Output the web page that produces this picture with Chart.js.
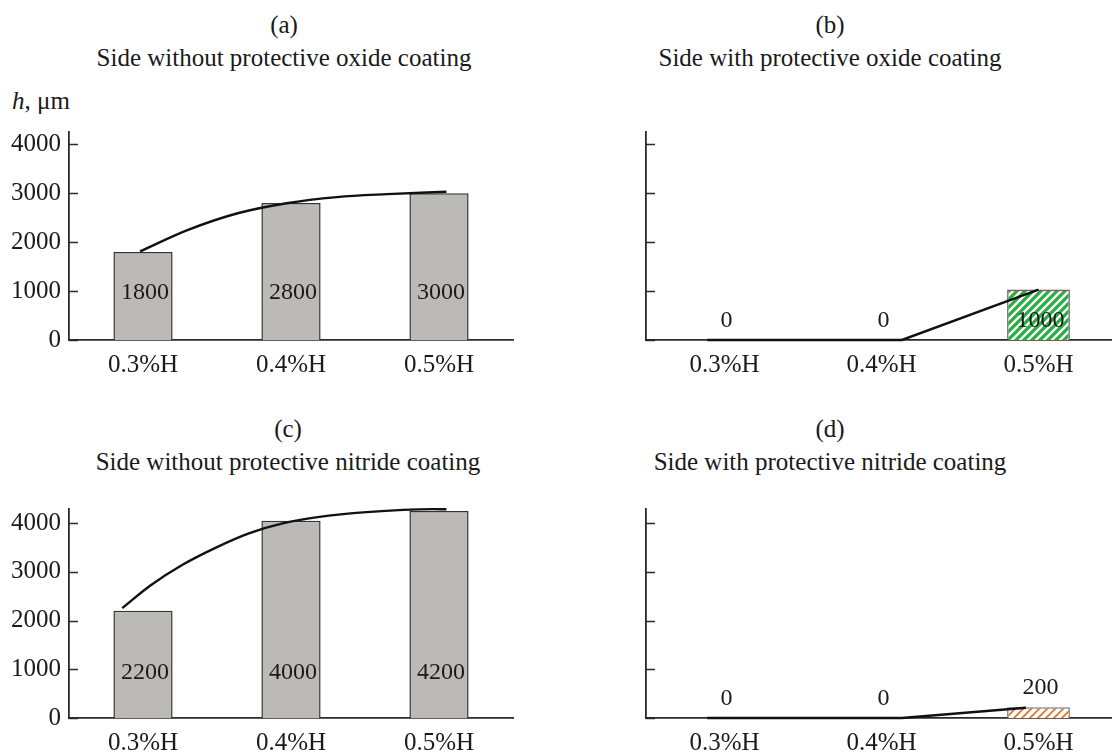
<!DOCTYPE html>
<html>
<head>
<meta charset="utf-8">
<script src="https://cdn.jsdelivr.net/npm/chart.js@4.4.1/dist/chart.umd.min.js"></script>
<style>
    body { margin: 0; width: 1112px; height: 752px; overflow: hidden; background: #fff; position: relative;
           font-family: "Liberation Serif", "DejaVu Serif", serif; color: #1a1a1a; }
    .panel { position: absolute; }
    .title { position: absolute; width: 560px; text-align: center; font-size: 25px; line-height: 33px; }
    .unit { position: absolute; left: 12px; top: 88px; font-size: 25px; line-height: 25px; }
</style>
</head>
<body>
<div class="title" style="left:4px;top:8px">(a)<br>Side without protective oxide coating</div>
<div class="title" style="left:550px;top:8px">(b)<br>Side with protective oxide coating</div>
<div class="title" style="left:8px;top:412px">(c)<br>Side without protective nitride coating</div>
<div class="title" style="left:550px;top:412px">(d)<br>Side with protective nitride coating</div>
<div class="unit"><i>h</i>, μm</div>

<div class="panel" style="left:0;top:0;width:556px;height:400px"><canvas id="chartA"></canvas></div>
<div class="panel" style="left:580px;top:0;width:540px;height:400px"><canvas id="chartB"></canvas></div>
<div class="panel" style="left:0;top:376px;width:556px;height:376px"><canvas id="chartC"></canvas></div>
<div class="panel" style="left:580px;top:376px;width:540px;height:376px"><canvas id="chartD"></canvas></div>

<script>
// Data
const categories = ['0.3%H', '0.4%H', '0.5%H'];
const yTicks = [0, 1000, 2000, 3000, 4000];

// bars (heights as drawn) and the numbers written on them
const oxideWithout = [1800, 2800, 3000];
const oxideWithoutLabels = ['1800', '2800', '3000'];
const oxideWith = [0, 0, 1030];
const oxideWithLabels = ['0', '0', '1000'];
const nitrideWithout = [2200, 4050, 4250];
const nitrideWithoutLabels = ['2200', '4000', '4200'];
const nitrideWith = [0, 0, 220];
const nitrideWithLabels = ['0', '0', '200'];

// trend curves (x in category index units, 0 = 0.3%H)
const oxideWithoutTrendX = [-0.02, 0.3, 0.64, 0.97, 1.31, 1.65, 2.05];
const oxideWithoutTrendY = [1810, 2245, 2590, 2795, 2920, 2980, 3030];
const oxideWithTrendX = [-0.11, 1.13, 2.0];
const oxideWithTrendY = [0, 0, 1030];
const nitrideWithoutTrendX = [-0.14, 0.05, 0.27, 0.5, 0.72, 0.95, 1.18, 1.51, 1.96, 2.05];
const nitrideWithoutTrendY = [2256, 2720, 3150, 3508, 3795, 4000, 4123, 4226, 4287, 4285];
const nitrideWithTrendX = [-0.11, 1.13, 1.92];
const nitrideWithTrendY = [0, 0, 210];

const FONT = '"Liberation Serif", "DejaVu Serif", serif';
const AXIS = '#2a2a2a';

function hatch(color, size, width) {
    const c = document.createElement('canvas');
    c.width = size; c.height = size;
    const ctx = c.getContext('2d');
    ctx.fillStyle = '#fff';
    ctx.fillRect(0, 0, size, size);
    ctx.strokeStyle = color;
    ctx.lineWidth = width;
    ctx.beginPath();
    ctx.moveTo(0, size); ctx.lineTo(size, 0);
    ctx.moveTo(-size / 2, size / 2); ctx.lineTo(size / 2, -size / 2);
    ctx.moveTo(size / 2, size * 1.5); ctx.lineTo(size * 1.5, size / 2);
    ctx.stroke();
    return ctx.createPattern(c, 'repeat');
}

// inward tick marks on the y axis + value labels on bars
const panelDecor = {
    id: 'panelDecor',
    afterDatasetsDraw(chart, args, opts) {
        const ctx = chart.ctx;
        const y = chart.scales.y;
        const left = chart.chartArea.left;
        ctx.save();
        ctx.strokeStyle = AXIS;
        ctx.lineWidth = 1.5;
        y.ticks.forEach(t => {
            const py = Math.round(y.getPixelForValue(t.value)) + 0.5;
            ctx.beginPath();
            ctx.moveTo(left, py);
            ctx.lineTo(left + 9, py);
            ctx.stroke();
        });
        const meta = chart.getDatasetMeta(0);
        ctx.fillStyle = '#1a1a1a';
        ctx.font = '24px ' + FONT;
        ctx.textAlign = 'center';
        ctx.textBaseline = 'middle';
        meta.data.forEach((bar, i) => {
            ctx.fillText(opts.labels[i], bar.x + 2, y.getPixelForValue(opts.at[i]));
        });
        ctx.restore();
    }
};

function makePanel(id, bars, labels, trendX, trendY, opt) {
    return new Chart(document.getElementById(id), {
        data: {
            datasets: [
                {
                    type: 'bar', order: 1,
                    data: bars.map((v, i) => ({ x: i, y: v })),
                    backgroundColor: opt.fill, borderColor: opt.edge, borderWidth: 1.5,
                    barPercentage: 0.4, categoryPercentage: 1
                },
                {
                    type: 'line', order: 0, clip: false,
                    data: trendX.map((x, i) => ({ x: x, y: trendY[i] })),
                    borderColor: '#111', borderWidth: 2.4, pointRadius: 0,
                    tension: opt.smooth ? 0.4 : 0,
                    cubicInterpolationMode: opt.smooth ? 'monotone' : 'default'
                }
            ]
        },
        options: {
            responsive: true, maintainAspectRatio: false, animation: false,
            layout: { padding: { left: 0, top: opt.top, right: opt.right, bottom: opt.bottom } },
            plugins: {
                legend: { display: false }, tooltip: { enabled: false },
                panelDecor: { labels: labels, at: opt.labelAt }
            },
            scales: {
                x: {
                    type: 'linear', min: -0.5, max: 2.5, offset: false,
                    grid: { display: false },
                    border: { display: true, color: AXIS, width: 1.8 },
                    ticks: {
                        color: '#1a1a1a', font: { family: FONT, size: 25 }, padding: 2,
                        callback: v => categories[v] ?? ''
                    },
                    afterBuildTicks: s => { s.ticks = categories.map((c, i) => ({ value: i })); },
                    afterFit: s => { s.height = opt.xh; }
                },
                y: {
                    min: 0, max: opt.max,
                    grid: { display: false },
                    border: { display: true, color: AXIS, width: 1.8 },
                    ticks: {
                        display: opt.yLabels, padding: 0,
                        color: '#1a1a1a', font: { family: FONT, size: 25 },
                        callback: v => String(v)
                    },
                    afterBuildTicks: s => { s.ticks = yTicks.map(v => ({ value: v })); },
                    afterFit: s => { s.width = opt.yw; }
                }
            }
        },
        plugins: [panelDecor]
    });
}

makePanel('chartA', oxideWithout, oxideWithoutLabels, oxideWithoutTrendX, oxideWithoutTrendY, {
    fill: '#bbbab6', edge: '#333', smooth: true, top: 132, right: 43, bottom: 24, xh: 36, yw: 69,
    max: 4250, yLabels: true, labelAt: [960, 960, 960]
});
makePanel('chartB', oxideWith, oxideWithLabels, oxideWithTrendX, oxideWithTrendY, {
    fill: hatch('#25b040', 8, 3.3), edge: '#666', smooth: false, top: 132, right: 3, bottom: 24, xh: 36, yw: 66,
    max: 4250, yLabels: false, labelAt: [400, 400, 400]
});
makePanel('chartC', nitrideWithout, nitrideWithoutLabels, nitrideWithoutTrendX, nitrideWithoutTrendY, {
    fill: '#bbbab6', edge: '#333', smooth: true, top: 133, right: 43, bottom: 0, xh: 34, yw: 69,
    max: 4290, yLabels: true, labelAt: [940, 940, 940]
});
makePanel('chartD', nitrideWith, nitrideWithLabels, nitrideWithTrendX, nitrideWithTrendY, {
    fill: hatch('#d9772b', 8, 1.8), edge: '#777', smooth: false, top: 133, right: 3, bottom: 0, xh: 34, yw: 66,
    max: 4290, yLabels: false, labelAt: [400, 400, 620]
});
</script>
</body>
</html>
